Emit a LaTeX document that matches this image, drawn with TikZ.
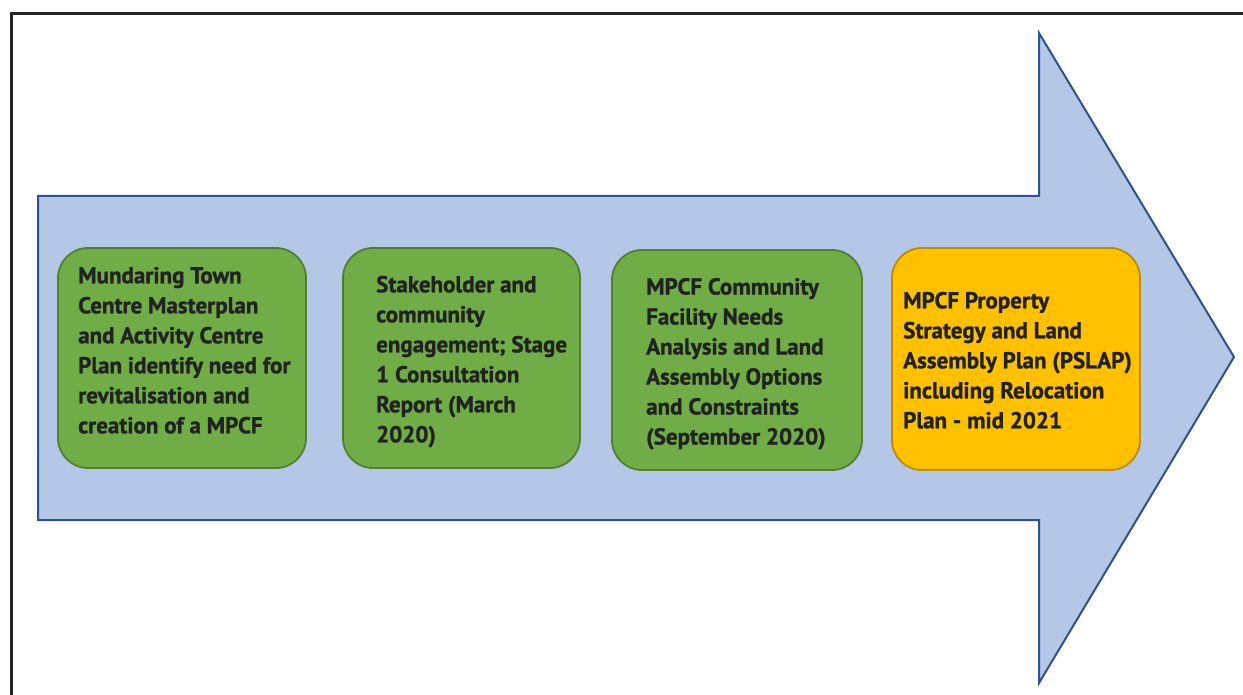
\documentclass[tikz,border=0pt]{standalone}
\usepackage{fontspec}
\setmainfont{PT Sans}[BoldFeatures={FakeBold=1.2}]
\begin{document}
\begin{tikzpicture}[x=1pt,y=-1pt,
  stepbox/.style={rounded corners=30pt, line width=1.8pt, minimum width=0pt},
  greenbox/.style={stepbox, fill=boxgreen, draw=boxgreenline},
  orangebox/.style={stepbox, fill=boxorange, draw=boxorangeline},
  label/.style={font=\fontsize{23}{30}\selectfont\bfseries, text=txt, align=left, inner sep=0pt, anchor=base west}]
\definecolor{boxgreen}{HTML}{70AD47}
\definecolor{boxgreenline}{HTML}{507E32}
\definecolor{boxorange}{HTML}{FFC000}
\definecolor{boxorangeline}{HTML}{BC8C00}
\definecolor{arrowfill}{HTML}{B4C7E7}
\definecolor{arrowline}{HTML}{2F528F}
\definecolor{frame}{HTML}{262626}
\definecolor{txt}{HTML}{222222}
\useasboundingbox (0,0) rectangle (1243,695);
% frame
\draw[frame, line width=3pt] (11.5,700) -- (11.5,13.5) -- (1250,13.5);
% big arrow
\draw[arrowline, fill=arrowfill, line width=2pt, line join=miter]
  (38,196) -- (1039,196) -- (1039,33) -- (1234,357) -- (1039,683) -- (1039,520) -- (38,520) -- cycle;
% boxes
\draw[greenbox] (58,248) rectangle (306,468);
\draw[greenbox] (343,248) rectangle (580,468);
\draw[greenbox] (612,250) rectangle (862,470);
\draw[orangebox] (892,248) rectangle (1140,470);
% texts (anchored at baseline of last line)
\node[label] (t1) at (78,433.3) {Mundaring Town\\Centre Masterplan\\and Activity Centre\\Plan identify need for\\revitalisation and\\creation of a MPCF};
\node[label] (t2) at (376,442.3) {Stakeholder and\\community\\engagement; Stage\\1 Consultation\\Report (March\\2020)};
\node[label] (t3) at (646,444.5) {MPCF Community\\Facility Needs\\Analysis and Land\\Assembly Options\\and Constraints\\(September 2020)};
\node[label] (t4) at (903,428.3) {MPCF Property\\Strategy and Land\\Assembly Plan (PSLAP)\\including Relocation\\Plan - mid 2021};
\end{tikzpicture}
\end{document}
